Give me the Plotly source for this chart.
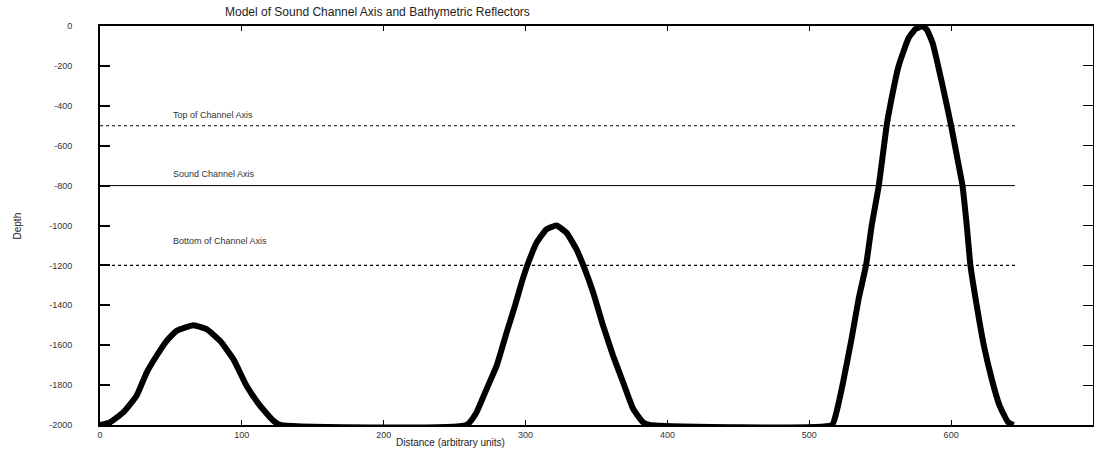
import plotly.graph_objects as go

# ---- data ----
bathy_x = [0, 7, 16.4, 25.8, 32.9, 39.9, 47, 54, 65.8, 75.1, 84.6, 94, 103.3, 112.8, 122.1, 127,
           258.4, 265.4, 272.5, 279.6, 286.6, 292.5, 297.2, 301.9, 307.7, 314.7, 321.8, 328.9, 335.9,
           341.8, 347.7, 354.7, 361.7, 368.8, 375.9, 382.9, 387.6,
           516, 519, 524, 530, 535, 540, 544, 549, 554.5, 557, 563, 570, 575, 580, 583, 587, 594,
           600, 604, 608, 611, 613.6, 618, 623, 629, 634, 640, 644]
bathy_depth = [-2000, -1987, -1937, -1853, -1737, -1653, -1578, -1528, -1500, -1520, -1578, -1670, -1803, -1903, -1978, -2000,
               -2000, -1937, -1820, -1703, -1537, -1403, -1287, -1187, -1087, -1020, -1000, -1037, -1120,
               -1220, -1337, -1503, -1653, -1787, -1920, -1987, -2000,
               -2000, -1940, -1780, -1560, -1360, -1200, -1000, -800, -500, -400, -200, -60, -15, 0, -20, -87, -300,
               -500, -650, -800, -1000, -1200, -1400, -1600, -1780, -1900, -1985, -2000]

channel_names = ["Top of Channel Axis", "Sound Channel Axis", "Bottom of Channel Axis"]
channel_depths = [-500, -800, -1200]
channel_x = [0, 645]
label_x = 50
label_depths = [-445, -740, -1080]

x_ticks = [0, 100, 200, 300, 400, 500, 600, 700]
y_ticks = [0, -200, -400, -600, -800, -1000, -1200, -1400, -1600, -1800, -2000]
y_ticktext = ["0", "-200", "-400", "-600", "-800", "-1000", "-1200", "-1400", "-1600", "-1800", "-2000"]

FONT = "Liberation Sans, Arial, sans-serif"

fig = go.Figure()

styles = [dict(dash="dot", width=1), dict(dash="solid", width=1), dict(dash="dot", width=1.3)]
for name, d, st in zip(channel_names, channel_depths, styles):
    fig.add_trace(go.Scatter(x=channel_x, y=[d, d], mode="lines",
                             line=dict(color="black", width=st["width"], dash=st["dash"]),
                             showlegend=False, hoverinfo="skip"))

fig.add_trace(go.Scatter(x=bathy_x, y=bathy_depth, mode="lines",
                         line=dict(color="black", width=6, shape="spline", smoothing=0.4),
                         showlegend=False))

# dummy trace for top/right frame axes
fig.add_trace(go.Scatter(x=[None], y=[None], xaxis="x2", yaxis="y2", showlegend=False))

for name, d in zip(channel_names, label_depths):
    fig.add_annotation(x=label_x, y=d, text=name, showarrow=False, xanchor="left", yanchor="middle",
                       font=dict(size=9, color="#333", family=FONT))

fig.add_annotation(x=0.279, y=1.0, xref="paper", yref="paper", yshift=14,
                   text="Model of Sound Channel Axis and Bathymetric Reflectors", showarrow=False,
                   xanchor="center", yanchor="middle", font=dict(size=12, color="#222", family=FONT))
fig.add_annotation(x=247, y=-0.043, xref="x", yref="paper", text="Distance (arbitrary units)",
                   showarrow=False, xanchor="center", yanchor="middle",
                   font=dict(size=10, color="#222", family=FONT))
fig.add_annotation(x=-0.0826, y=0.5, xref="paper", yref="paper", text="Depth", textangle=-90,
                   showarrow=False, xanchor="center", yanchor="middle",
                   font=dict(size=10, color="#222", family=FONT))

fig.update_layout(
    width=1096, height=453,
    margin=dict(l=100, r=3, t=26, b=28),
    paper_bgcolor="white", plot_bgcolor="white",
    font=dict(family=FONT, size=9, color="#333"),
    xaxis=dict(range=[0, 700], tickvals=x_ticks, ticks="inside", ticklen=5, tickwidth=1,
               tickcolor="black", showline=True, linewidth=2, linecolor="black",
               showgrid=False, zeroline=False, tickfont=dict(size=9, color="#333")),
    yaxis=dict(range=[-2000, 0], tickvals=y_ticks, ticktext=y_ticktext, ticks="inside", ticklen=10,
               tickwidth=1.5, tickcolor="black", showline=True, linewidth=2, linecolor="black",
               showgrid=False, zeroline=False, ticklabelstandoff=24,
               tickfont=dict(size=9, color="#333")),
    xaxis2=dict(range=[0, 700], tickvals=x_ticks, overlaying="x", side="top", anchor="y2",
                ticks="inside", ticklen=5, tickwidth=1, tickcolor="black", showticklabels=False,
                showline=True, linewidth=1.5, linecolor="black", showgrid=False, zeroline=False),
    yaxis2=dict(range=[-2000, 0], tickvals=y_ticks, overlaying="y", side="right", anchor="x2",
                ticks="inside", ticklen=10, tickwidth=1, tickcolor="black", showticklabels=False,
                showline=True, linewidth=1, linecolor="black", showgrid=False, zeroline=False),
)

fig.write_html("out.html", config={"displayModeBar": False},
               post_script="document.body.style.margin='0';document.body.style.overflow='hidden';")
